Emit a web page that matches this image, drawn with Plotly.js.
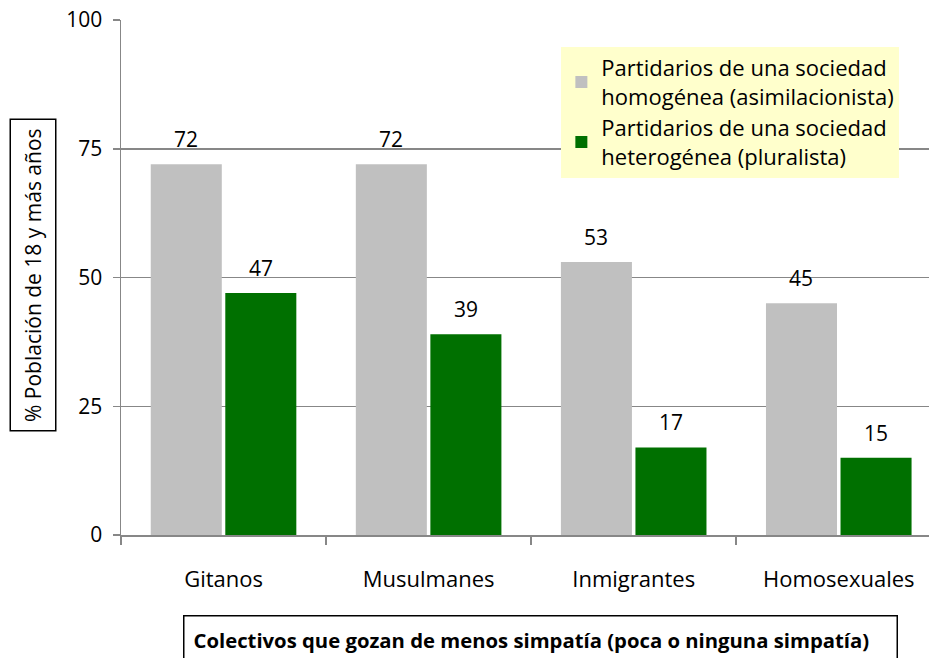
<!DOCTYPE html>
<html>
<head>
<meta charset="utf-8">
<script src="https://cdn.plot.ly/plotly-3.0.1.min.js"></script>
<style>html,body{margin:0;padding:0;background:#fff;}#chart{width:929px;height:658px;}</style>
</head>
<body>
<div id="chart"></div>
<script>
const categories = ["Gitanos", "Musulmanes", "Inmigrantes", "Homosexuales"];
const homogenea = [72, 72, 53, 45];
const heterogenea = [47, 39, 17, 15];
const seriesNames = [
  "Partidarios de una sociedad<br>homogénea (asimilacionista)",
  "Partidarios de una sociedad<br>heterogénea (pluralista)"
];
const yTicks = [0, 25, 50, 75, 100];
const xTitle = "Colectivos que gozan de menos simpatía (poca o ninguna simpatía)";
const yTitle = "% Población de 18 y más años";

const FONT = "'Open Sans', sans-serif";
const BARGAP = 0.273;
const GROUPGAP = 0.047;
const slotOffset = (1 - BARGAP) / 4;   // centre of each bar relative to category centre

const traces = [
  {type: "bar", x: categories, y: homogenea, name: seriesNames[0], marker: {color: "#c0c0c0"}},
  {type: "bar", x: categories, y: heterogenea, name: seriesNames[1], marker: {color: "#007000"}}
];

const labelAnns = [];
[homogenea, heterogenea].forEach((vals, s) => {
  vals.forEach((v, i) => {
    labelAnns.push({
      xref: "x", yref: "y", x: i + (s === 0 ? -slotOffset : slotOffset), y: v,
      xanchor: "center", yanchor: "bottom", yshift: 9, showarrow: false,
      text: String(v), font: {family: FONT, size: 21, color: "#000"}
    });
  });
});

const layout = {
  width: 929, height: 658,
  margin: {l: 121, r: 0, t: 20, b: 123},
  paper_bgcolor: "#fff", plot_bgcolor: "#fff",
  font: {family: FONT, size: 21, color: "#000"},
  barmode: "group",
  bargap: BARGAP,
  bargroupgap: GROUPGAP,
  showlegend: true,
  legend: {
    x: 0.545, y: 0.948, xanchor: "left", yanchor: "top",
    bgcolor: "#ffffcc", borderwidth: 0,
    font: {family: FONT, size: 22, color: "#000"},
    tracegroupgap: 14, itemwidth: 30
  },
  xaxis: {
    type: "category",
    range: [-0.5, 3.44],
    tickson: "boundaries",
    ticks: "outside", ticklen: 8, tickcolor: "#878787", tickwidth: 1.5,
    showline: true, linecolor: "#878787", linewidth: 1.5,
    showgrid: false, zeroline: false,
    tickfont: {family: FONT, size: 22, color: "#000"},
    ticklabelstandoff: 24
  },
  yaxis: {
    range: [0, 100],
    tickvals: yTicks, ticktext: yTicks.map(String),
    ticks: "outside", ticklen: 7, tickcolor: "#878787", tickwidth: 1.5,
    showline: true, linecolor: "#878787", linewidth: 1.5,
    showgrid: true, gridcolor: "#878787", gridwidth: 1.5,
    zeroline: false,
    tickfont: {family: FONT, size: 21, color: "#000"},
    ticklabelstandoff: 6
  },
  annotations: labelAnns.concat([
    {
      xref: "paper", yref: "paper", x: (540 - 121) / 808, y: -0.203,
      xanchor: "center", yanchor: "middle", showarrow: false,
      width: 694, align: "left",
      text: "<b>" + xTitle + "</b>",
      font: {family: FONT, size: 20.3, color: "#000"},
      bordercolor: "#000", borderwidth: 1.5, borderpad: 9, bgcolor: "#fff"
    },
    {
      xref: "paper", yref: "paper", x: (33 - 121) / 808, y: (535 - 275.5) / 515,
      xanchor: "center", yanchor: "middle", showarrow: false,
      textangle: -90,
      text: yTitle,
      font: {family: FONT, size: 21, color: "#000"},
      bordercolor: "#000", borderwidth: 1.5, borderpad: 8, bgcolor: "#fff"
    }
  ])
};

Plotly.newPlot("chart", traces, layout, {displayModeBar: false, staticPlot: true});
</script>
</body>
</html>
